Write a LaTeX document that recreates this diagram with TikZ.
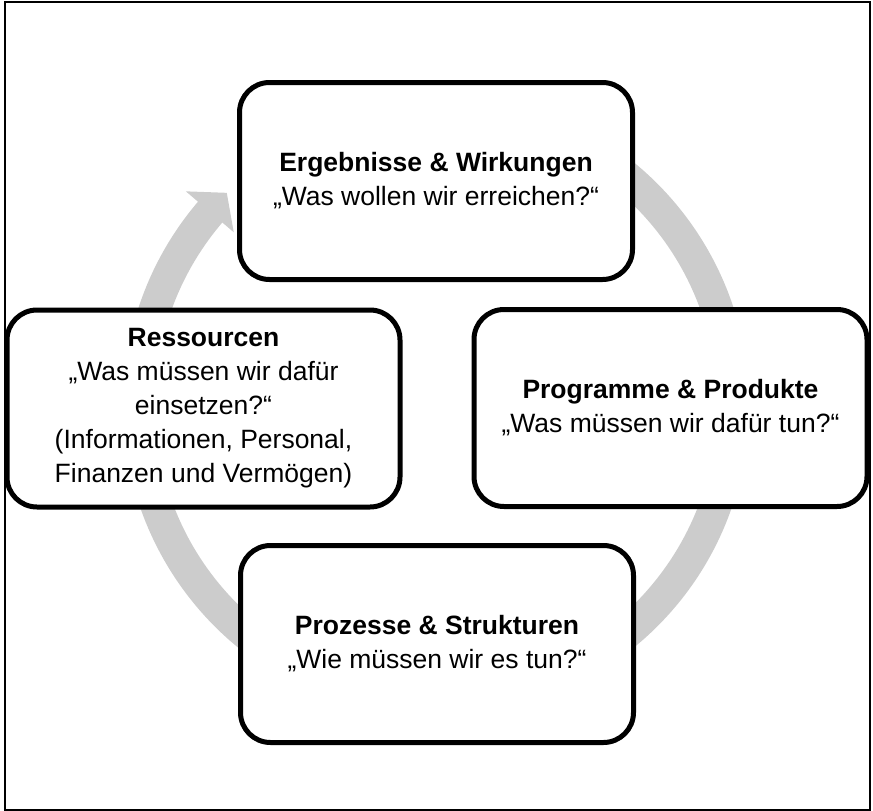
\documentclass[tikz,border=0pt]{standalone}
\usepackage{fontspec}
\setmainfont{Liberation Sans}
\usetikzlibrary{calc}
\definecolor{ringgray}{RGB}{204,204,204}
\begin{document}
\begin{tikzpicture}[x=1pt,y=-1pt,
  box/.style={draw=black, line width=5pt, rounded corners=30pt, fill=white,
    minimum width=393pt, minimum height=197pt, align=center, inner sep=0pt,
    font=\fontsize{26.5}{34}\selectfont},
  ringfill/.style={fill=ringgray, draw=none}]
\useasboundingbox (0,0) rectangle (873,811);
\draw[line width=2pt] (5,1.5) rectangle (870,809.5);
\coordinate (c) at (436,405);
% ring band
\path[ringfill] ($(c)+(-80:313)$) arc[start angle=-80,end angle=221,radius=313]
  -- ($(c)+(221:281)$) arc[start angle=221,end angle=-80,radius=281] -- cycle;
% arrow head
\path[ringfill] ($(c)+(220.5:266)$) -- ($(c)+(225.4:298)$) -- ($(c)+(220.5:329)$) -- cycle;
% boxes
\node[box] (erg) at (436,181) {\textbf{Ergebnisse \& Wirkungen}\\„Was wollen wir erreichen?“};
\node[box] (res) at (203.5,408.5) {\textbf{Ressourcen}\\„Was müssen wir dafür\\einsetzen?“\\(Informationen, Personal,\\Finanzen und Vermögen)};
\node[box] (prog) at (670.5,408) {\textbf{Programme \& Produkte}\\„Was müssen wir dafür tun?“};
\node[box] (proz) at (437,644) {\textbf{Prozesse \& Strukturen}\\„Wie müssen wir es tun?“};
\end{tikzpicture}
\end{document}
